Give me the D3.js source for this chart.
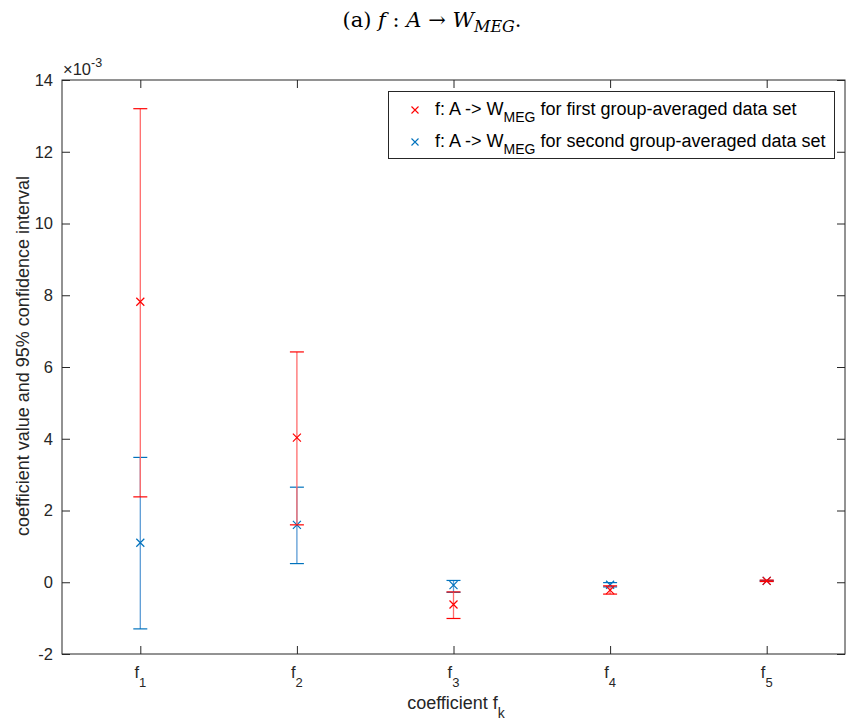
<!DOCTYPE html>
<html><head><meta charset="utf-8">
<script src="https://cdn.jsdelivr.net/npm/d3@7/dist/d3.min.js"></script>
<style>body{margin:0;background:#fff}svg{display:block}</style>
</head><body>
<svg id="c" width="846" height="727"></svg>
<script>
const categories = ["1","2","3","4","5"];
const yTicks = [-2,0,2,4,6,8,10,12,14];
// values in units of 1e-3
const firstValue = [7.82, 4.03, -0.62, -0.22, 0.04];
const firstLower = [2.38, 1.60, -1.01, -0.33, 0.02];
const firstUpper = [13.2, 6.42, -0.27, -0.10, 0.06];
const secondValue = [1.10, 1.60, -0.08, -0.07, 0.04];
const secondLower = [-1.30, 0.52, -0.28, -0.13, 0.03];
const secondUpper = [3.48, 2.65, 0.05, -0.01, 0.05];

const svg = d3.select("#c");
const L = 62, R = 845, T = 80, B = 654;
const x = d3.scaleLinear().domain([0.5, 5.5]).range([L, R]);
const y = d3.scaleLinear().domain([-2, 14]).range([B, T]);
const axisCol = "#262626";
const font = "'Liberation Sans', Arial, Helvetica, sans-serif";

// Title
const title = svg.append("text").attr("x", 432).attr("y", 27).attr("text-anchor", "middle")
  .style("font-family", "'DejaVu Serif', 'Liberation Serif', serif").style("font-size", "21px").attr("fill", "#000");
title.append("tspan").text("(a) ");
title.append("tspan").attr("font-style", "italic").text("f");
title.append("tspan").text(" : ");
title.append("tspan").attr("font-style", "italic").text("A");
title.append("tspan").text(" → ");
title.append("tspan").attr("font-style", "italic").text("W");
title.append("tspan").attr("font-style", "italic").attr("font-size", "16px").attr("dy", 5).text("MEG");
title.append("tspan").attr("dy", -5).text(".");

// Box
const g = svg.append("g");
g.append("rect").attr("x", L).attr("y", T).attr("width", R - L).attr("height", B - T)
  .attr("fill", "none").attr("stroke", axisCol).attr("stroke-width", 1);

// Y ticks (inward, mirrored)
const yAxisL = d3.axisLeft(y).tickValues(yTicks).tickFormat(d => String(d)).tickSizeInner(-8).tickSizeOuter(0).tickPadding(9);
const ya = g.append("g").attr("transform", `translate(${L},0)`).call(yAxisL);
ya.select(".domain").remove();
ya.selectAll("line").attr("stroke", axisCol);
ya.selectAll("text").style("font-family", font).style("font-size", "16.5px").attr("fill", axisCol);
const yR = g.append("g").attr("transform", `translate(${R},0)`).call(d3.axisRight(y).tickValues(yTicks).tickSizeInner(-8).tickSizeOuter(0).tickFormat(""));
yR.select(".domain").remove(); yR.selectAll("line").attr("stroke", axisCol);

// X ticks
const xVals = categories.map(Number);
const xa = g.append("g").attr("transform", `translate(0,${B})`).call(d3.axisBottom(x).tickValues(xVals).tickSizeInner(-8).tickSizeOuter(0).tickFormat(""));
xa.select(".domain").remove(); xa.selectAll("line").attr("stroke", axisCol);
const xt = g.append("g").attr("transform", `translate(0,${T})`).call(d3.axisTop(x).tickValues(xVals).tickSizeInner(-8).tickSizeOuter(0).tickFormat(""));
xt.select(".domain").remove(); xt.selectAll("line").attr("stroke", axisCol);
categories.forEach(c => {
  const t = g.append("text").attr("x", x(+c)).attr("y", 678).attr("text-anchor", "middle")
    .style("font-family", font).style("font-size", "16.5px").attr("fill", axisCol);
  t.append("tspan").text("f");
  t.append("tspan").attr("font-size", "13px").attr("dy", 9).text(c);
});

// Exponent
const ex = svg.append("text").attr("x", 63).attr("y", 75).style("font-family", font).style("font-size", "16.5px").attr("fill", axisCol);
ex.append("tspan").text("×10");
ex.append("tspan").attr("font-size", "12.5px").attr("dy", -8).text("-3");

// axis labels
const xl = svg.append("text").attr("x", 456).attr("y", 709).attr("text-anchor", "middle")
  .style("font-family", font).style("font-size", "18px").attr("fill", axisCol);
xl.append("tspan").text("coefficient f");
xl.append("tspan").attr("font-size", "14px").attr("dy", 9).text("k");
svg.append("text").attr("transform", `translate(29,356) rotate(-90)`).attr("text-anchor", "middle")
  .style("font-family", font).style("font-size", "18px").attr("fill", axisCol)
  .text("coefficient value and 95% confidence interval");

// Error bars
function drawSeries(vals, lo, hi, col, lineCol) {
  const gg = svg.append("g");
  vals.forEach((v, i) => {
    const cx = x(+categories[i]);
    gg.append("line").attr("x1", cx).attr("x2", cx).attr("y1", y(lo[i])).attr("y2", y(hi[i]))
      .attr("stroke", lineCol).attr("stroke-width", 1.3);
    [lo[i], hi[i]].forEach(e => gg.append("line").attr("x1", cx - 7).attr("x2", cx + 7)
      .attr("y1", y(e)).attr("y2", y(e)).attr("stroke", col).attr("stroke-width", 1.2));
    const cy = y(v), s = 4;
    gg.append("path").attr("d", `M${cx - s},${cy - s}L${cx + s},${cy + s}M${cx - s},${cy + s}L${cx + s},${cy - s}`)
      .attr("stroke", col).attr("stroke-width", 1.2).attr("fill", "none");
  });
}
drawSeries(secondValue, secondLower, secondUpper, "#0072BD", "#5b9bd5");
drawSeries(firstValue, firstLower, firstUpper, "#ff0000", "#ff6b6b");

// Legend
const lg = svg.append("g");
lg.append("rect").attr("x", 388.5).attr("y", 91.5).attr("width", 446).attr("height", 67)
  .attr("fill", "#fff").attr("stroke", axisCol).attr("stroke-width", 1);
[["first", "#ff0000", 110], ["second", "#0072BD", 142]].forEach(([w, col, yy]) => {
  const s = 3.5, cx = 415;
  lg.append("path").attr("d", `M${cx - s},${yy - s}L${cx + s},${yy + s}M${cx - s},${yy + s}L${cx + s},${yy - s}`)
    .attr("stroke", col).attr("stroke-width", 1.1);
  const t = lg.append("text").attr("x", 435).attr("y", yy + 5).style("font-family", font).style("font-size", "18px").attr("fill", "#000");
  t.append("tspan").text("f: A -> W");
  t.append("tspan").attr("font-size", "14px").attr("dy", 7).text("MEG");
  t.append("tspan").attr("dy", -7).text(` for ${w} group-averaged data set`);
});
</script>
</body></html>
